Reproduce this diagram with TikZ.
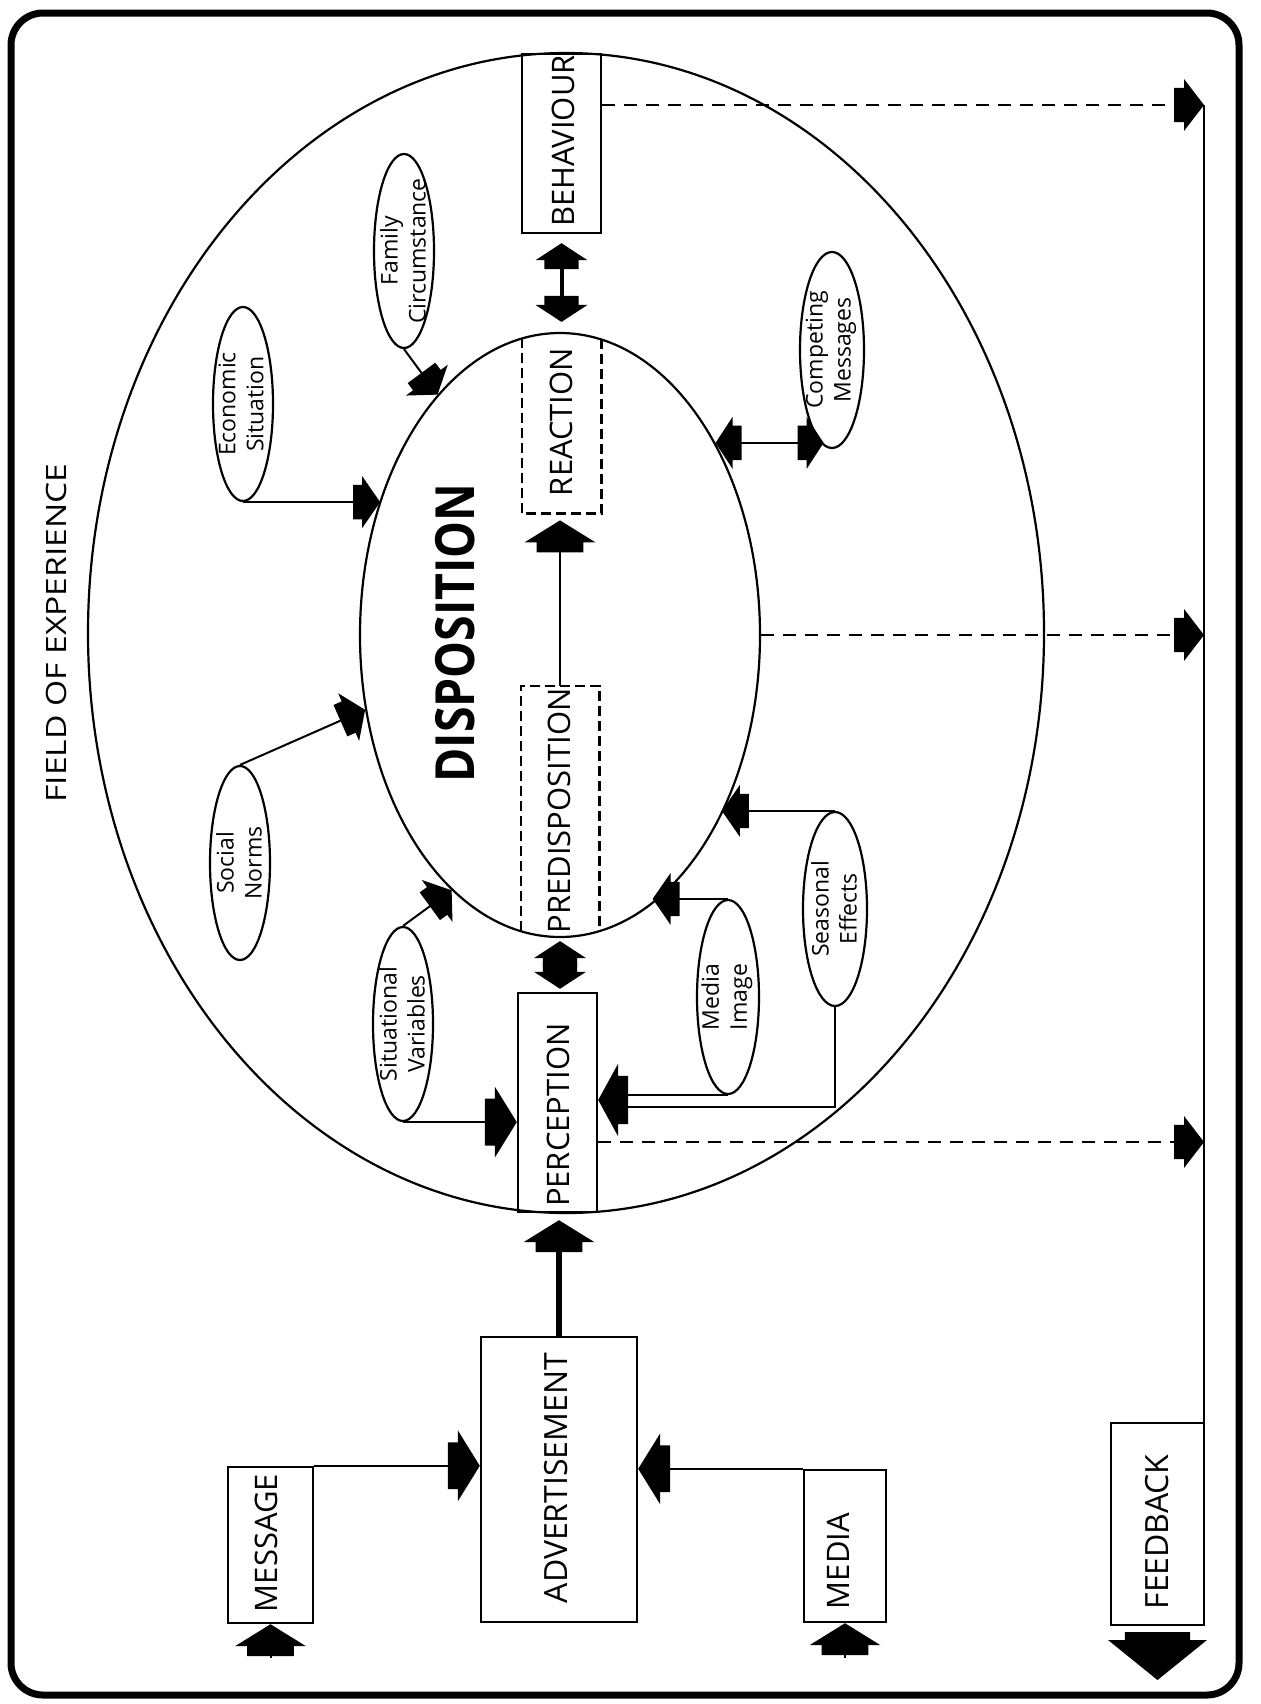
\documentclass[tikz,border=0pt]{standalone}
\usepackage{fontspec}
\setmainfont{Open Sans}
\usepackage{graphicx}
\usetikzlibrary{arrows.meta,shapes.geometric}
\newdimen\blkdim
\pgfdeclarearrow{
  name = Blk,
  parameters = {\the\pgfarrowlength,\the\pgfarrowwidth,\the\pgfarrowinset},
  setup code = {
    \pgfarrowssettipend{0pt}
    \pgfarrowssetlineend{-.5\pgfarrowlength}
    \blkdim=\pgfarrowlength
    \advance\blkdim by \pgfarrowinset
    \pgfarrowssetbackend{-\blkdim}
    \pgfarrowsupperhullpoint{0pt}{0pt}
    \pgfarrowsupperhullpoint{-\pgfarrowlength}{.5\pgfarrowwidth}
    \pgfarrowsupperhullpoint{-\blkdim}{.33\pgfarrowwidth}
    \pgfarrowssavethe\pgfarrowlength
    \pgfarrowssavethe\pgfarrowwidth
    \pgfarrowssavethe\pgfarrowinset
  },
  drawing code = {
    \pgfpathmoveto{\pgfqpoint{0pt}{0pt}}
    \pgfpathlineto{\pgfpoint{-\pgfarrowlength}{.5\pgfarrowwidth}}
    \pgfpathlineto{\pgfpoint{-\pgfarrowlength}{.33\pgfarrowwidth}}
    \pgfpathlineto{\pgfpoint{-\pgfarrowlength-\pgfarrowinset}{.33\pgfarrowwidth}}
    \pgfpathlineto{\pgfpoint{-\pgfarrowlength-\pgfarrowinset}{-.33\pgfarrowwidth}}
    \pgfpathlineto{\pgfpoint{-\pgfarrowlength}{-.33\pgfarrowwidth}}
    \pgfpathlineto{\pgfpoint{-\pgfarrowlength}{-.5\pgfarrowwidth}}
    \pgfpathclose
    \pgfusepathqfill
  },
  defaults = {length = 9pt, width = 26pt, inset = 4.5pt}
}
\tikzset{
  blks/.style={arrows={-Blk[length=9pt,width=26pt,inset=4.5pt]}},
  blkd/.style={arrows={-Blk[length=10pt,width=26pt,inset=5pt]}},
  blkl/.style={arrows={-Blk[length=11pt,width=35.5pt,inset=5pt]}},
  blkf/.style={arrows={-Blk[length=20pt,width=49.5pt,inset=4pt]}},
  dblks/.style={arrows={Blk[length=8.5pt,width=26pt,inset=4.5pt]-Blk[length=8.5pt,width=26pt,inset=4.5pt]}},
  conn/.style={line width=1pt},
  fdash/.style={line width=1pt, dash pattern=on 6.5pt off 4.5pt},
  bigoval/.style={draw, ellipse, line width=1.1pt, inner sep=0pt},
  oval/.style={draw, ellipse, line width=1.1pt, inner sep=0pt, minimum width=30pt, minimum height=97pt},
  otext/.style={align=center, rotate=90, inner sep=0pt, font=\fontsize{11.5}{14}\selectfont},
  boxn/.style={draw, rectangle, line width=1.2pt, inner sep=0pt},
  boxe/.style={rectangle, inner sep=0pt},
  dboxline/.style={line width=1.1pt, dash pattern=on 5pt off 2.5pt},
  btext/.style={rotate=90, inner sep=0pt, font=\fontsize{15.5}{18}\selectfont},
  bbtext/.style={rotate=90, inner sep=0pt, font=\fontsize{16}{18}\selectfont}
}
\begin{document}
\begin{tikzpicture}[x=0.5pt,y=-0.5pt]
\useasboundingbox (0,0) rectangle (1260,1704);
\draw[line width=3.5pt, rounded corners=16pt] (11,13) rectangle (1239,1695);

% large ellipses
\node[bigoval, minimum width=478pt, minimum height=580pt] (field) at (566,633) {};
\node[bigoval, minimum width=200pt, minimum height=302pt] (disp) at (560,635) {};
\node[rotate=90, inner sep=0pt, font=\fontsize{14}{16}\selectfont] (tField) at (56,633) {\scalebox{1.2}[1]{FIELD OF EXPERIENCE}};
\node[rotate=90, inner sep=0pt, font=\bfseries\fontsize{27}{30}\selectfont] (tDisp) at (455,633) {\scalebox{0.86}[1]{DISPOSITION}};

% boxes
\node[boxn, minimum width=39.5pt, minimum height=89.5pt] (beh) at (561.5,143.5) {};
\node[btext] (tBeh) at (563,141) {BEHAVIOUR};
\node[boxe, minimum width=39.5pt, minimum height=87.5pt] (reac) at (561.5,425.5) {};
\draw[dboxline] (reac.north west) -- (reac.south west) -- (reac.south east) -- (reac.north east);
\node[btext] (tReac) at (561,422) {REACTION};
\node[boxe, minimum width=39pt, minimum height=122.5pt] (pred) at (560,808.5) {};
\draw[dboxline] (pred.south west) -- (pred.north west) -- (pred.north east) -- (pred.south east);
\node[btext] (tPred) at (559,811) {PREDISPOSITION};
\node[boxn, minimum width=39.5pt, minimum height=109.5pt] (perc) at (557.5,1102.5) {};
\node[btext] (tPerc) at (558,1115) {PERCEPTION};
\node[boxn, minimum width=78pt, minimum height=142.5pt] (adv) at (559,1479.5) {};
\node[bbtext] (tAdv) at (556,1478) {ADVERTISEMENT};
\node[boxn, minimum width=42.5pt, minimum height=78pt] (msg) at (270.5,1545) {};
\node[btext] (tMsg) at (266,1543) {MESSAGE};
\node[boxn, minimum width=41pt, minimum height=76pt] (media) at (845,1546) {};
\node[btext] (tMedia) at (838,1561) {MEDIA};
\node[boxn, minimum width=46.5pt, minimum height=101pt] (fb) at (1157.5,1524) {};
\node[bbtext] (tFb) at (1157,1532) {FEEDBACK};

% small ovals
\node[oval] (fam) at (404,251) {};
\node[otext] (tFam) at (403,251) {Family\\Circumstance};
\node[oval] (econ) at (243,404) {};
\node[otext] (tEcon) at (241,404) {Economic\\Situation};
\node[oval] (soc) at (240,863) {};
\node[otext] (tSoc) at (239,863) {Social\\Norms};
\node[oval] (sit) at (403,1024) {};
\node[otext] (tSit) at (402,1024) {Situational\\Variables};
\node[oval, minimum width=31pt] (mimg) at (728,997) {};
\node[otext] (tMimg) at (727,997) {Media\\Image};
\node[oval, minimum width=32pt] (seas) at (835,909) {};
\node[otext] (tSeas) at (834,909) {Seasonal\\Effects};
\node[oval, minimum width=32pt, minimum height=98pt] (comp) at (832,350) {};
\node[otext] (tComp) at (831,350) {Competing\\Messages};

% coordinates
\coordinate (fbTop) at (1204,105);
\coordinate (fbP) at (1204,1142);
\coordinate (pin) at (627,1100);
\coordinate (msgIn) at (270.5,1658);
\coordinate (medIn) at (845,1658);
\coordinate (fbOut) at (1157.5,1680);

% influences on disposition
\draw[conn, blks] (econ.south) -- (econ.south -| disp.143);
\draw[conn, blks] (fam.south) -- (disp.117);
\draw[conn, blks] (soc.north) -- (disp.201);
\draw[conn, blks] (sit.north) -- (disp.247);
\draw[conn, blks] (mimg.north) -- (mimg.north -| disp.289);
\draw[conn, blks] (seas.north) -- (seas.north -| disp.312);
\draw[conn, dblks] (disp.51) -- (disp.51 -| comp.265);

% influences on perception
\draw[conn, blkl] (sit.south) -- (sit.south -| perc.west);
\draw[conn] (mimg.south) -- (mimg.south -| pin);
\draw[conn] (seas.south) -- (seas.south |- 0,1107) -- (pin |- 0,1107);
\draw[conn, arrows={-Blk[length=10pt,width=36.5pt,inset=5pt]}] (pin) -- (pin -| perc.east);

% main chain
\draw[line width=3pt, blkl, shorten >=3.5pt] (adv.north) -- (adv.north |- perc.south);
\draw[line width=1.6pt, dblks, shorten <=1.5pt, shorten >=1.5pt] (disp.south) -- (disp.south |- perc.north);
\draw[conn, blkl, shorten >=3.5pt] (pred.north) -- (pred.north |- reac.south);
\draw[line width=2pt, dblks, shorten <=4.5pt, shorten >=5pt] (beh.south) -- (beh.south |- disp.north);

% inputs to advertisement
\draw[conn, blkl] (msg.north east) -- (msg.north east -| adv.west);
\draw[conn, blkl] (media.north west) -- (media.north west -| adv.east);
\draw[conn, blkl] (msgIn) -- (msg.south);
\draw[conn, blkl] (medIn) -- (media.south);

% feedback
\draw[fdash, blkd] (beh.east |- fbTop) -- (fbTop);
\draw[fdash, blkd] (disp.east) -- (disp.east -| fbTop);
\draw[fdash, blkd] (perc.east |- fbP) -- (fbP);
\draw[conn] (fbTop) -- (fbTop |- fb.north);
\draw[conn, blkf, shorten <=3.5pt] (fb.south) -- (fbOut);
\end{tikzpicture}
\end{document}
